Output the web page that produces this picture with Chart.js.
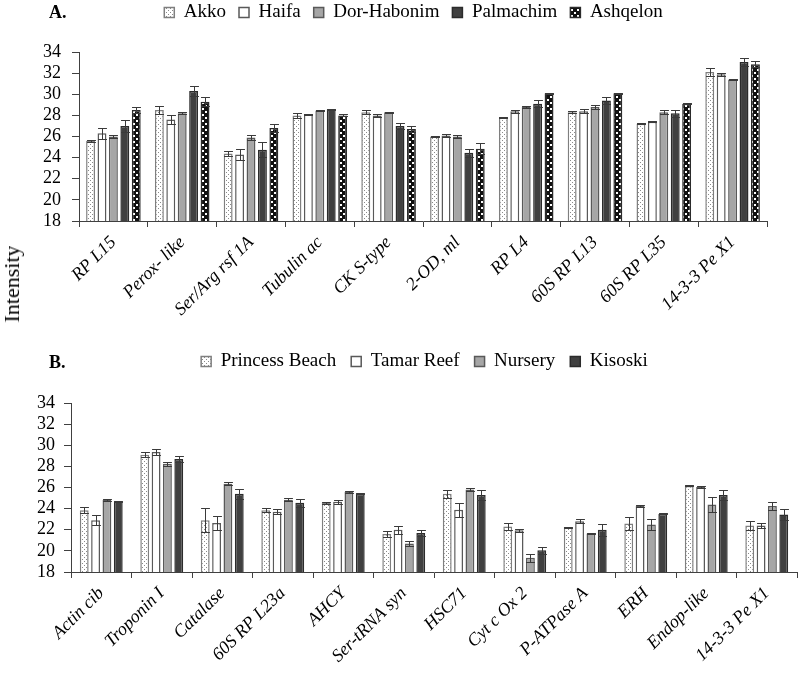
<!DOCTYPE html>
<html>
<head>
<meta charset="utf-8">
<script src="https://cdn.jsdelivr.net/npm/chart.js@4.4.1/dist/chart.umd.min.js"></script>
<style>
  body { margin: 0; background: #fff; }
  #wrap { position: relative; width: 800px; height: 678px; overflow: hidden; font-family: "Liberation Serif", serif; color: #000; }
  canvas { position: absolute; left: 0; }
  #chartA { top: -10px; }
  #chartB { top: 337px; }
  .panel { position: absolute; font-weight: bold; font-size: 18px; line-height: 18px; }
  #ytitle { position: absolute; left: 12px; top: 284px; transform: translate(-50%, -50%) rotate(-90deg); font-size: 22px; white-space: nowrap; }
</style>
</head>
<body>
<div id="wrap">
  <canvas id="chartA" width="800" height="347"></canvas>
  <canvas id="chartB" width="800" height="341"></canvas>
  <div class="panel" style="left:49px; top:3px;">A.</div>
  <div class="panel" style="left:49px; top:353px;">B.</div>
  <div id="ytitle">Intensity</div>
</div>
<script>
// panel A
const proteinsA = ['RP L15', 'Perox- like', 'Ser/Arg rsf 1A', 'Tubulin ac', 'CK S-type', '2-OD, ml', 'RP L4', '60S RP L13', '60S RP L35', '14-3-3 Pe X1'];
const sitesA = ['Akko', 'Haifa', 'Dor-Habonim', 'Palmachim', 'Ashqelon'];
const akko     = [25.6, 28.5, 24.4, 28.0, 28.3, 26.0, 27.8, 28.3, 27.2, 32.1];
const akkoErr  = [0.1, 0.4, 0.25, 0.25, 0.2, 0.05, 0.05, 0.1, 0.05, 0.4];
const haifa    = [26.3, 27.6, 24.3, 28.1, 28.0, 26.1, 28.4, 28.4, 27.4, 31.9];
const haifaErr = [0.55, 0.45, 0.55, 0.05, 0.15, 0.1, 0.15, 0.2, 0.05, 0.15];
const dor      = [26.0, 28.2, 25.9, 28.45, 28.3, 26.0, 28.8, 28.8, 28.3, 31.4];
const dorErr   = [0.15, 0.1, 0.25, 0.05, 0.05, 0.1, 0.1, 0.2, 0.2, 0.05];
const palm     = [27.0, 30.3, 24.75, 28.55, 27.0, 24.45, 29.1, 29.4, 28.2, 33.05];
const palmErr  = [0.55, 0.45, 0.7, 0.05, 0.3, 0.4, 0.35, 0.3, 0.35, 0.35];
const ashq     = [28.5, 29.3, 26.8, 28.0, 26.7, 24.85, 30.1, 30.1, 29.1, 32.85];
const ashqErr  = [0.25, 0.4, 0.35, 0.1, 0.3, 0.55, 0.05, 0.05, 0.05, 0.3];

// panel B
const proteinsB = ['Actin cib', 'Troponin I', 'Catalase', '60S RP L23a', 'AHCY', 'Ser-tRNA syn', 'HSC71', 'Cyt c Ox 2', 'P-ATPase A', 'ERH', 'Endop-like', '14-3-3 Pe X1'];
const sitesB = ['Princess Beach', 'Tamar Reef', 'Nursery', 'Kisoski'];
const princess    = [23.85, 29.1, 22.9, 23.85, 24.55, 21.6, 25.4, 22.3, 22.25, 22.6, 26.15, 22.4];
const princessErr = [0.3, 0.25, 1.15, 0.2, 0.1, 0.3, 0.4, 0.35, 0.05, 0.6, 0.05, 0.45];
const tamar       = [22.9, 29.35, 22.65, 23.7, 24.65, 22.0, 23.9, 21.95, 22.8, 24.25, 26.05, 22.4];
const tamarErr    = [0.45, 0.25, 0.65, 0.25, 0.2, 0.4, 0.65, 0.15, 0.2, 0.05, 0.05, 0.2];
const nursery     = [24.85, 28.25, 26.35, 24.85, 25.6, 20.7, 25.8, 19.35, 21.65, 22.5, 24.4, 24.25];
const nurseryErr  = [0.1, 0.2, 0.15, 0.15, 0.1, 0.25, 0.15, 0.4, 0.05, 0.55, 0.7, 0.4];
const kisoski     = [24.7, 28.7, 25.4, 24.55, 25.4, 21.7, 25.3, 20.05, 22.0, 23.5, 25.3, 23.45];
const kisoskiErr  = [0.05, 0.25, 0.5, 0.35, 0.05, 0.3, 0.5, 0.3, 0.55, 0.05, 0.45, 0.55];

const yTicks = [18, 20, 22, 24, 26, 28, 30, 32, 34];
const FONT = '"Liberation Serif", "Times New Roman", serif';

function dotPattern(bg, fg, size, pts, r) {
  const c = document.createElement('canvas');
  c.width = c.height = size;
  const x = c.getContext('2d');
  x.fillStyle = bg;
  x.fillRect(0, 0, size, size);
  x.fillStyle = fg;
  pts.forEach(p => x.fillRect(p[0], p[1], r, r));
  return x.createPattern(c, 'repeat');
}

const speckled = dotPattern('#ffffff', '#8a8a8a', 4, [[0, 0], [2, 2]], 1);
const confetti = dotPattern('#111111', '#ffffff', 6, [[1, 1], [4, 4]], 2);

const styles = [
  { backgroundColor: speckled, borderColor: '#7f7f7f' },
  { backgroundColor: '#ffffff', borderColor: '#595959' },
  { backgroundColor: '#a6a6a6', borderColor: '#595959' },
  { backgroundColor: '#404040', borderColor: '#2b2b2b' },
  { backgroundColor: confetti, borderColor: '#2b2b2b' }
];

// error bars drawn from the bar elements and the y scale
const errorBars = {
  id: 'errorBars',
  afterDatasetsDraw(chart, args, opts) {
    const ctx = chart.ctx, y = chart.scales.y;
    ctx.save();
    ctx.lineWidth = 1;
    ctx.strokeStyle = '#3a3a3a';
    chart.data.datasets.forEach((ds, i) => {
      const meta = chart.getDatasetMeta(i);
      const errs = opts.errors[i];
      meta.data.forEach((bar, j) => {
        const v = ds.data[j], e = errs[j];
        const top = Math.round(y.getPixelForValue(v + e)) + 0.5;
        const bot = Math.round(y.getPixelForValue(v - e)) + 0.5;
        const cx = Math.round(bar.x) + 0.5;
        const hw = bar.width / 2;
        ctx.beginPath();
        ctx.moveTo(cx, top); ctx.lineTo(cx, bot);
        ctx.moveTo(cx - hw, top); ctx.lineTo(cx + hw, top);
        ctx.moveTo(cx - hw, bot); ctx.lineTo(cx + hw, bot);
        ctx.stroke();
      });
    });
    ctx.restore();
  }
};

// extra space under the legend, and a sideways nudge of the legend
const legendGap = {
  id: 'legendGap',
  beforeLayout(chart, args, opts) {
    const lg = chart.legend;
    if (lg && !lg._gapped) {
      const fit = lg.fit;
      lg.fit = function () {
        fit.call(this);
        this.height += opts.extra;
      };
      lg._gapped = true;
    }
  },
  afterLayout(chart, args, opts) {
    const lg = chart.legend;
    lg.left += opts.shift;
    lg.right += opts.shift;
  }
};

function makeChart(id, labels, names, values, errors, cfg) {
  const datasets = names.map((name, i) => Object.assign({
    label: name,
    data: values[i],
    borderWidth: 1.5,
    borderSkipped: false,
    categoryPercentage: cfg.catPct,
    barPercentage: 0.78
  }, styles[i]));

  return new Chart(document.getElementById(id), {
    type: 'bar',
    data: { labels: labels, datasets: datasets },
    plugins: [errorBars, legendGap],
    options: {
      responsive: false,
      animation: false,
      layout: { padding: { left: 0, right: cfg.padRight, top: 0, bottom: 0 } },
      plugins: {
        legend: {
          position: 'top',
          labels: {
            boxWidth: 10, boxHeight: 10,
            padding: cfg.legendPad,
            color: '#000',
            font: { family: FONT, size: 19 }
          }
        },
        legendGap: { extra: cfg.legendExtra, shift: cfg.legendShift },
        errorBars: { errors: errors },
        tooltip: { enabled: false }
      },
      scales: {
        x: {
          grid: { display: true, drawOnChartArea: false, drawTicks: true, tickLength: 6, color: '#404040', offset: true },
          border: { display: true, color: '#404040', width: 1 },
          ticks: {
            autoSkip: false, maxRotation: 45, minRotation: 45, padding: 5,
            color: '#000',
            font: { family: FONT, size: 18, style: 'italic' }
          },
          afterFit: s => { s.height = cfg.xHeight; }
        },
        y: {
          min: 18, max: 34,
          grid: { drawOnChartArea: false, tickLength: 7, color: '#404040' },
          border: { display: true, color: '#404040', width: 1 },
          afterBuildTicks: s => { s.ticks = yTicks.map(v => ({ value: v })); },
          ticks: {
            autoSkip: false,
            padding: cfg.yPad,
            color: '#000',
            font: { family: FONT, size: 18 }
          },
          afterFit: s => { s.width = cfg.yWidth; }
        }
      }
    }
  });
}

makeChart('chartA', proteinsA, sitesA,
  [akko, haifa, dor, palm, ashq],
  [akkoErr, haifaErr, dorErr, palmErr, ashqErr],
  { padRight: 33, yWidth: 79, yPad: 11, xHeight: 116, legendPad: 13, legendExtra: 20, legendShift: 30, catPct: 0.83 });

makeChart('chartB', proteinsB, sitesB,
  [princess, tamar, nursery, kisoski],
  [princessErr, tamarErr, nurseryErr, kisoskiErr],
  { padRight: 3, yWidth: 71, yPad: 9, xHeight: 106, legendPad: 15, legendExtra: 22, legendShift: 26, catPct: 0.75 });
</script>
</body>
</html>
